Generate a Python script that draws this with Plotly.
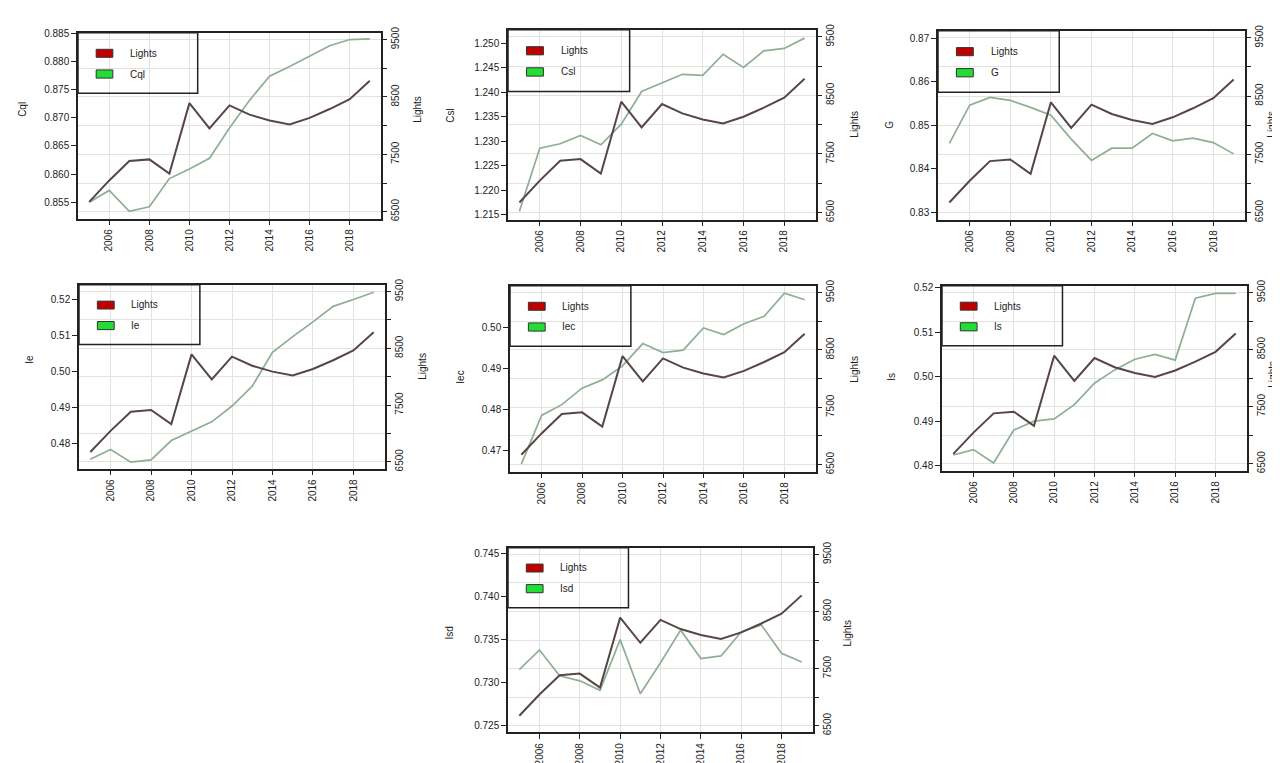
import plotly.graph_objects as go

W, H = 1280, 763

years = list(range(2005, 2020))
lights = [6672, 7045, 7383, 7412, 7165, 8393, 7952, 8353, 8192, 8089, 8020, 8135, 8290, 8462, 8783]

cql = [0.8550, 0.8571, 0.8534, 0.8542, 0.8592, 0.8609, 0.8628, 0.8682, 0.8731, 0.8774, 0.8791, 0.8810, 0.8828, 0.8839, 0.8840]
csl = [1.2157, 1.2286, 1.2295, 1.2312, 1.2293, 1.2335, 1.2402, 1.2419, 1.2437, 1.2435, 1.2478, 1.2451, 1.2485, 1.2490, 1.2511]
g_idx = [0.8458, 0.8546, 0.8564, 0.8557, 0.8541, 0.8523, 0.8468, 0.8419, 0.8447, 0.8447, 0.8481, 0.8464, 0.8470, 0.8460, 0.8434]
ie = [0.4757, 0.4784, 0.4749, 0.4755, 0.4809, 0.4834, 0.4861, 0.4905, 0.4960, 0.5054, 0.5098, 0.5139, 0.5182, 0.5201, 0.5221]
iec = [0.4668, 0.4786, 0.4812, 0.4852, 0.4872, 0.4906, 0.4960, 0.4938, 0.4944, 0.4998, 0.4982, 0.5008, 0.5026, 0.5082, 0.5066]
is_idx = [0.4824, 0.4836, 0.4806, 0.4880, 0.4900, 0.4905, 0.4937, 0.4985, 0.5015, 0.5039, 0.5050, 0.5037, 0.5176, 0.5187, 0.5187]
isd = [0.7315, 0.7338, 0.7308, 0.7302, 0.7291, 0.7350, 0.7287, 0.7323, 0.7361, 0.7328, 0.7331, 0.7359, 0.7367, 0.7334, 0.7324]

names = ["Cql", "Csl", "G", "Ie", "Iec", "Is", "Isd"]
series = [cql, csl, g_idx, ie, iec, is_idx, isd]

left_ticks = [
    [0.855, 0.860, 0.865, 0.870, 0.875, 0.880, 0.885],
    [1.215, 1.220, 1.225, 1.230, 1.235, 1.240, 1.245, 1.250],
    [0.83, 0.84, 0.85, 0.86, 0.87],
    [0.48, 0.49, 0.50, 0.51, 0.52],
    [0.47, 0.48, 0.49, 0.50],
    [0.48, 0.49, 0.50, 0.51, 0.52],
    [0.725, 0.730, 0.735, 0.740, 0.745],
]
left_fmt = [".3f", ".3f", ".2f", ".2f", ".2f", ".2f", ".3f"]
left_ranges = [
    [0.8521, 0.8851],
    [1.2140, 1.2528],
    [0.8283, 0.8717],
    [0.4731, 0.5242],
    [0.4650, 0.5100],
    [0.4789, 0.5204],
    [0.7242, 0.7457],
]
right_range = [6380, 9620]
right_ticks = [6500, 7000, 7500, 8000, 8500, 9000, 9500]
right_text = ["6500", "", "7500", "", "8500", "", "9500"]
x_ticks = [2006, 2008, 2010, 2012, 2014, 2016, 2018]

# panel boxes in pixels: x0, x1, y0(top), y1(bottom)
boxes = [
    (70, 373, 19, 207),
    (500, 808, 16, 208),
    (930, 1237, 17, 208),
    (71, 377, 274, 460),
    (502, 808, 275, 463),
    (934, 1239, 275, 462),
    (500, 805, 540, 727),
]
# left title positions, right title positions (pixels)
ltitle = [(15, 97), (443, 103), (882, 112), (22, 350), (453, 368), (884, 367), (442, 627)]
rtitle = [(410, 97), (847, 112), (1264, 112), (415, 357), (847, 360), (1265, 365), (840, 627)]

LIGHT_C = "#574649"
IDX_C = "#8fae94"
GRID_C = "#e2e2e2"
FONT = "Liberation Sans, Arial, sans-serif"

fig = go.Figure()
layout = dict(
    width=W, height=H, margin=dict(l=0, r=0, t=0, b=0),
    paper_bgcolor="white", plot_bgcolor="white", showlegend=False,
    font=dict(family=FONT, size=10, color="#222"),
)
shapes = []
annotations = []

for i in range(7):
    n = i + 1
    xa = "x" if n == 1 else f"x{n}"
    ya = "y" if n == 1 else f"y{n}"
    yr = f"y{n + 7}"
    x0, x1, t, b = boxes[i]
    dx = [x0 / W, x1 / W]
    dy = [1 - b / H, 1 - t / H]

    fig.add_trace(go.Scatter(x=years, y=series[i], mode="lines", xaxis=xa, yaxis=ya,
                             line=dict(color=IDX_C, width=1.7), name=names[i]))
    fig.add_trace(go.Scatter(x=years, y=lights, mode="lines", xaxis=xa, yaxis=yr,
                             line=dict(color=LIGHT_C, width=2), name="Lights"))

    kx = "xaxis" if n == 1 else f"xaxis{n}"
    ky = "yaxis" if n == 1 else f"yaxis{n}"
    kr = f"yaxis{n + 7}"
    layout[kx] = dict(
        domain=dx, anchor=ya, range=[2004.44, 2019.56],
        tickvals=x_ticks, ticktext=[str(v) for v in x_ticks], tickangle=-90,
        ticks="outside", ticklen=5, tickcolor="#222",
        showline=True, mirror=True, linecolor="#222", linewidth=1.5,
        showgrid=True, gridcolor=GRID_C, gridwidth=1,
        zeroline=False, tickfont=dict(size=10),
    )
    layout[ky] = dict(
        domain=dy, anchor=xa, range=left_ranges[i],
        tickvals=left_ticks[i], ticktext=[format(v, left_fmt[i]) for v in left_ticks[i]],
        ticks="outside", ticklen=5, tickcolor="#222",
        showline=True, mirror=True, linecolor="#222", linewidth=1.5,
        showgrid=False, zeroline=False, tickfont=dict(size=10),
    )
    layout[kr] = dict(
        overlaying=ya, side="right", anchor=xa, range=right_range,
        tickvals=right_ticks, ticktext=right_text, tickangle=-90,
        ticks="outside", ticklen=5, tickcolor="#222",
        showline=False, showgrid=True, gridcolor=GRID_C, gridwidth=1,
        zeroline=False, tickfont=dict(size=10),
    )

    xd = f"{xa} domain"
    yd = f"{ya} domain"
    shapes.append(dict(type="rect", xref=xd, yref=yd, x0=0, x1=0.395, y0=0.675, y1=1,
                       line=dict(color="#222", width=1.5), fillcolor="rgba(0,0,0,0)"))
    shapes.append(dict(type="rect", xref=xd, yref=yd, x0=0.06, x1=0.115, y0=0.868, y1=0.911,
                       line=dict(color="#333", width=1), fillcolor="#c00000"))
    shapes.append(dict(type="rect", xref=xd, yref=yd, x0=0.06, x1=0.115, y0=0.756, y1=0.800,
                       line=dict(color="#333", width=1), fillcolor="#22dd33"))
    annotations.append(dict(text="Lights", xref=xd, yref=yd, x=0.165, y=0.89,
                            xanchor="left", yanchor="middle", showarrow=False,
                            font=dict(size=10, color="#222")))
    annotations.append(dict(text=names[i], xref=xd, yref=yd, x=0.165, y=0.778,
                            xanchor="left", yanchor="middle", showarrow=False,
                            font=dict(size=10, color="#222")))
    lx, ly = ltitle[i]
    annotations.append(dict(text=names[i], xref="paper", yref="paper", x=lx / W, y=1 - ly / H,
                            xanchor="center", yanchor="middle", textangle=-90, showarrow=False,
                            font=dict(size=10, color="#222")))
    rx, ry = rtitle[i]
    annotations.append(dict(text="Lights", xref="paper", yref="paper", x=rx / W, y=1 - ry / H,
                            xanchor="center", yanchor="middle", textangle=-90, showarrow=False,
                            font=dict(size=10, color="#222")))

layout["shapes"] = shapes
layout["annotations"] = annotations
fig.update_layout(**layout)
fig.write_html("out.html")
